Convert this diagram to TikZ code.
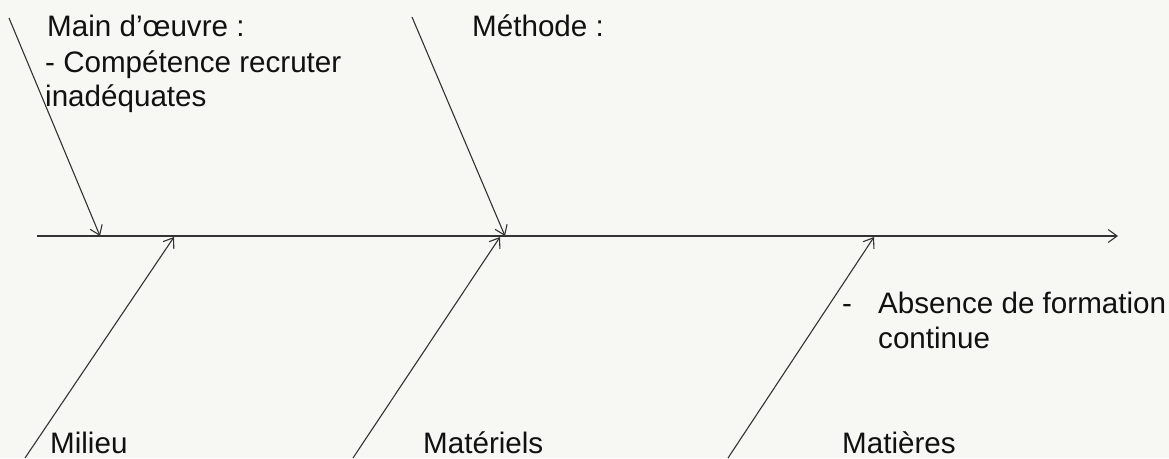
\documentclass[tikz,border=0pt]{standalone}
\usepackage{fontspec}
\setmainfont{Liberation Sans}
\usetikzlibrary{arrows.meta}
\definecolor{bg}{HTML}{F7F7F3}
\definecolor{ln}{HTML}{333333}
\definecolor{tx}{HTML}{111111}
\begin{document}
\begin{tikzpicture}[x=1pt,y=1pt,
  lbl/.style={anchor=base west,inner sep=0pt,text=tx,font=\fontsize{29.6}{35}\selectfont},
  bone/.style={draw=ln,line width=1.1pt,-{Straight Barb[length=9pt,width=13pt,line width=1.1pt]}}]
\fill[bg] (0,0) rectangle (1169,458);
\useasboundingbox (0,0) rectangle (1169,458);
% spine
\coordinate (s0) at (37,222);
\coordinate (s1) at (1118,222);
\draw[bone] (s0) -- (s1);
% bone ends
\coordinate (mo0) at (9,440);   \coordinate (mo1) at (100,222);
\coordinate (me0) at (412,441); \coordinate (me1) at (505,222);
\coordinate (mi0) at (25,0);    \coordinate (mi1) at (174,221);
\coordinate (ma0) at (353,0);   \coordinate (ma1) at (500,221);
\coordinate (mt0) at (728,0);   \coordinate (mt1) at (874,221);
\draw[bone] (mo0) -- (mo1);
\draw[bone] (me0) -- (me1);
\draw[bone] (mi0) -- (mi1);
\draw[bone] (ma0) -- (ma1);
\draw[bone] (mt0) -- (mt1);
% labels
\node[lbl] (t1) at (47,421) {Main d’œuvre :};
\node[lbl] (t2) at (45,385) {- Compétence recruter};
\node[lbl] (t3) at (45,351) {inadéquates};
\node[lbl] (t4) at (472,421) {Méthode :};
\node[lbl] (t5) at (842,145) {-};
\node[lbl] (t6) at (878,145) {Absence de formation};
\node[lbl] (t7) at (878,110) {continue};
\node[lbl] (t8) at (50,5) {Milieu};
\node[lbl] (t9) at (423,5) {Matériels};
\node[lbl] (t10) at (842,5) {Matières};
\end{tikzpicture}
\end{document}
